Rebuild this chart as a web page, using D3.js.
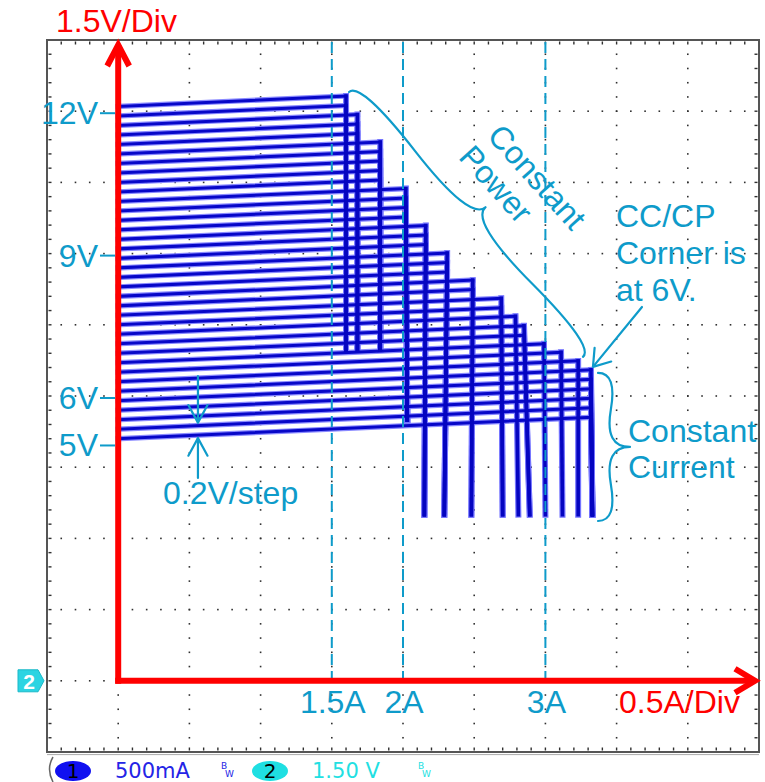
<!DOCTYPE html>
<html>
<head>
<meta charset="utf-8">
<script src="https://cdn.jsdelivr.net/npm/d3@7"></script>
<style>
  html, body { margin: 0; padding: 0; background: #ffffff; }
  svg { display: block; }
</style>
</head>
<body>
<svg id="chart" width="765" height="782"></svg>
<script>
// ---- Load sweeps: one trace per output setpoint, 0.2 V apart ----
// No-load output voltage of each sweep (V)
const startVolts = [12.1, 11.9, 11.7, 11.5, 11.3, 11.1, 10.9, 10.7, 10.5, 10.3,
                    10.1, 9.9, 9.7, 9.5, 9.3, 9.1, 8.9, 8.7, 8.5, 8.3,
                    8.1, 7.9, 7.7, 7.5, 7.3, 7.1, 6.9, 6.7, 6.5, 6.3,
                    6.1, 5.9, 5.7, 5.5, 5.3, 5.1];
// Output voltage when the sweep reaches its limit (V)
const cornerVolts = [12.32, 12.12, 11.93, 11.73, 11.53, 11.35, 11.15, 10.95, 10.75, 10.55,
                     10.37, 10.17, 9.97, 9.77, 9.59, 9.39, 9.19, 9.01, 8.81, 8.61,
                     8.44, 8.24, 8.06, 7.86, 7.68, 7.48, 7.28, 7.10, 6.92, 6.74,
                     6.55, 6.35, 6.15, 5.95, 5.75, 5.55];
// Load current at the limit (A)
const limitAmps = [1.60, 1.60, 1.68, 1.68, 1.68, 1.84, 1.84, 1.84, 1.84, 1.84,
                   2.02, 2.02, 2.02, 2.02, 2.16, 2.16, 2.16, 2.31, 2.31, 2.31,
                   2.49, 2.49, 2.69, 2.69, 2.79, 2.85, 2.85, 2.99, 3.11, 3.23,
                   3.32, 3.32, 3.32, 3.32, 3.32, 3.32];
// Voltage where the fold-down of each sweep ends (V)
const foldVolts = [6.97, 6.97, 6.97, 6.97, 6.97, 6.97, 6.97, 6.97, 6.97, 6.97,
                   5.49, 5.49, 5.49, 5.49, 3.50, 3.50, 3.50, 3.50, 3.50, 3.50,
                   3.50, 3.50, 3.50, 3.50, 3.50, 3.50, 3.50, 3.50, 3.50, 3.50,
                   3.50, 3.50, 3.50, 3.50, 3.50, 3.50];
// Current at the bottom of each fold-down (A)
const foldAmps = [1.60, 1.60, 1.68, 1.68, 1.68, 1.84, 1.84, 1.84, 1.84, 1.84,
                  2.03, 2.03, 2.03, 2.03, 2.15, 2.15, 2.15, 2.29, 2.29, 2.29,
                  2.48, 2.48, 2.70, 2.70, 2.81, 2.89, 2.89, 3.00, 3.12, 3.23,
                  3.33, 3.33, 3.33, 3.33, 3.33, 3.33];

// Axis annotations
const voltTicks = [12, 9, 6, 5];
const voltTickLabels = ["12V", "9V", "6V", "5V"];
const ampMarkers = [1.5, 2, 3];
const ampMarkerLabels = ["1.5A", "2A", "3A"];

// ---- Scales: 10 x 10 graticule, 0.5 A/div and 1.5 V/div ----
const svg = d3.select("#chart");
const x = d3.scaleLinear().domain([-0.5, 4.5]).range([47, 759]);
const y = d3.scaleLinear().domain([-1.5, 13.5]).range([752, 40]);

const CYAN = "#0e9bca";
const RED = "#ff0000";
const FONT = "'Liberation Sans', Arial, Helvetica, sans-serif";
const MONO = "'DejaVu Sans', Verdana, sans-serif";

// ---- Graticule ----
const aMinor = d3.range(1, 50).map(i => -0.5 + i * 0.1);
const vMinor = d3.range(1, 50).map(i => -1.5 + i * 0.3);
const aMajor = d3.range(1, 10).map(i => -0.5 + i * 0.5);
const vMajor = d3.range(1, 10).map(i => -1.5 + i * 1.5);

const grid = svg.append("g").attr("fill", "#303030");
const dots = [];
aMajor.forEach(a => vMinor.forEach(v => dots.push([x(a), y(v)])));
vMajor.forEach(v => aMinor.forEach(a => dots.push([x(a), y(v)])));
grid.selectAll("rect.dot").data(dots).join("rect")
  .attr("class", "dot")
  .attr("x", d => d[0] - 0.8).attr("y", d => d[1] - 0.8)
  .attr("width", 1.6).attr("height", 1.6);

// border ticks every fifth of a division
const edgeTicks = [];
aMinor.forEach(a => {
  edgeTicks.push([x(a) - 0.7, 41.5, 1.4, 3]);
  edgeTicks.push([x(a) - 0.7, 747.5, 1.4, 3]);
});
vMinor.forEach(v => {
  edgeTicks.push([48.5, y(v) - 0.7, 3, 1.4]);
  edgeTicks.push([754.5, y(v) - 0.7, 3, 1.4]);
});
grid.selectAll("rect.edge").data(edgeTicks).join("rect")
  .attr("class", "edge")
  .attr("x", d => d[0]).attr("y", d => d[1])
  .attr("width", d => d[2]).attr("height", d => d[3]);

// frame
svg.append("rect")
  .attr("x", x(-0.5)).attr("y", y(13.5))
  .attr("width", x(4.5) - x(-0.5)).attr("height", y(-1.5) - y(13.5))
  .attr("fill", "none").attr("stroke", "#555").attr("stroke-width", 2);
svg.append("line")
  .attr("x1", x(-0.5)).attr("x2", x(4.5))
  .attr("y1", y(-1.5) + 2.6).attr("y2", y(-1.5) + 2.6)
  .attr("stroke", "#aaa").attr("stroke-width", 1);

// ---- Sweep traces ----
// flat part: from no load up to the limit corner
const flats = startVolts.map((v0, k) => [[0, v0], [limitAmps[k], cornerVolts[k]]]);
// fold-down part: from the corner to where the sweep ends
const folds = startVolts.map((v0, k) => [[limitAmps[k], cornerVolts[k]], [foldAmps[k], foldVolts[k]]]);
const traceLine = d3.line().x(d => x(d[0])).y(d => y(d[1]));
const traces = svg.append("g").attr("fill", "none").attr("stroke-linecap", "square");
traces.selectAll("path.halo").data(flats).join("path")
  .attr("class", "halo").attr("d", traceLine)
  .attr("stroke", "#8a8aff").attr("stroke-width", 5.4);
traces.selectAll("path.fhalo").data(folds).join("path")
  .attr("class", "fhalo").attr("d", traceLine)
  .attr("stroke", "#7474ff").attr("stroke-width", 6);
traces.selectAll("path.core").data(flats).join("path")
  .attr("class", "core").attr("d", traceLine)
  .attr("stroke", "#0707c8").attr("stroke-width", 3);
traces.selectAll("path.fcore").data(folds).join("path")
  .attr("class", "fcore").attr("d", traceLine)
  .attr("stroke", "#0505c0").attr("stroke-width", 3.6);

// ---- Current markers (dashed) ----
svg.append("g").selectAll("line").data(ampMarkers).join("line")
  .attr("x1", d => x(d)).attr("x2", d => x(d))
  .attr("y1", y(13.5) + 2).attr("y2", y(0))
  .attr("stroke", CYAN).attr("stroke-width", 2)
  .attr("stroke-dasharray", "11,6");

svg.append("g").selectAll("text").data(ampMarkers).join("text")
  .attr("x", d => x(d) + 1).attr("y", y(0) + 32)
  .attr("text-anchor", "middle")
  .attr("font-family", FONT).attr("font-size", 32)
  .attr("fill", CYAN)
  .text((d, i) => ampMarkerLabels[i]);

// ---- Voltage labels ----
const vLab = svg.append("g");
vLab.selectAll("line").data(voltTicks).join("line")
  .attr("x1", 100).attr("x2", 115)
  .attr("y1", d => y(d) + 2).attr("y2", d => y(d) + 2)
  .attr("stroke", CYAN).attr("stroke-width", 2);
vLab.selectAll("text").data(voltTicks).join("text")
  .attr("x", 98).attr("y", d => y(d) + 13)
  .attr("text-anchor", "end")
  .attr("font-family", FONT).attr("font-size", 32)
  .attr("fill", CYAN)
  .text((d, i) => voltTickLabels[i]);

// ---- Red axes with open arrowheads ----
const axes = svg.append("g").attr("stroke", RED).attr("stroke-width", 6).attr("fill", "none");
const x0 = x(0), y0 = y(0);
axes.append("line").attr("x1", x0).attr("y1", y0 + 3).attr("x2", x0).attr("y2", 45);
axes.append("polyline")
  .attr("points", `${x0 - 11},${66} ${x0},${45} ${x0 + 11},${66}`)
  .attr("stroke-linejoin", "miter");
axes.append("line").attr("x1", x0 - 3).attr("y1", y0).attr("x2", 754).attr("y2", y0);
axes.append("polyline")
  .attr("points", `${735},${y0 - 12} ${755},${y0} ${735},${y0 + 12}`)
  .attr("stroke-linejoin", "miter");

svg.append("text").attr("x", 56).attr("y", 32)
  .attr("font-family", FONT).attr("font-size", 32).attr("fill", RED)
  .text("1.5V/Div");
svg.append("text").attr("x", 619).attr("y", y0 + 32)
  .attr("font-family", FONT).attr("font-size", 32).attr("fill", RED)
  .text("0.5A/Div");

// ---- Annotations ----
function bracePath(x1, y1, x2, y2, w, q) {
  let dx = x1 - x2, dy = y1 - y2;
  const len = Math.hypot(dx, dy);
  dx /= len; dy /= len;
  const qx1 = x1 + q * w * dy, qy1 = y1 - q * w * dx;
  const qx2 = (x1 - 0.25 * len * dx) + (1 - q) * w * dy, qy2 = (y1 - 0.25 * len * dy) - (1 - q) * w * dx;
  const tx1 = (x1 - 0.5 * len * dx) + w * dy, ty1 = (y1 - 0.5 * len * dy) - w * dx;
  const qx3 = x2 + q * w * dy, qy3 = y2 - q * w * dx;
  const qx4 = (x1 - 0.75 * len * dx) + (1 - q) * w * dy, qy4 = (y1 - 0.75 * len * dy) - (1 - q) * w * dx;
  return `M${x1},${y1} Q${qx1},${qy1} ${qx2},${qy2} T${tx1},${ty1}` +
         ` M${x2},${y2} Q${qx3},${qy3} ${qx4},${qy4} T${tx1},${ty1}`;
}
function chevron(tx, ty, ang, len, spread) {
  const a1 = ang - spread, a2 = ang + spread;
  return `M${tx + len * Math.cos(a1)},${ty + len * Math.sin(a1)} L${tx},${ty} L${tx + len * Math.cos(a2)},${ty + len * Math.sin(a2)}`;
}

const ann = svg.append("g").attr("fill", "none").attr("stroke", CYAN).attr("stroke-width", 2.2)
  .attr("stroke-linecap", "round").attr("stroke-linejoin", "round");
const annText = svg.append("g").attr("font-family", FONT).attr("font-size", 32).attr("fill", CYAN);

// corner where constant power hands over to constant current
const ccIdx = 30;
const cornerX = x(limitAmps[ccIdx]), cornerY = y(cornerVolts[ccIdx]);
const topX = x(limitAmps[0]), topY = y(cornerVolts[0]);

// constant-power brace along the staircase edge
ann.append("path").attr("d", bracePath(cornerX - 8, cornerY - 13, topX + 3, topY - 4, 26, 0.6));
annText.append("text")
  .attr("transform", "translate(537,177) rotate(48)")
  .attr("text-anchor", "middle").attr("dominant-baseline", "central")
  .text("Constant");
annText.append("text")
  .attr("transform", "translate(496,184) rotate(48)")
  .attr("text-anchor", "middle").attr("dominant-baseline", "central")
  .text("Power");

// CC/CP corner call-out
const tipX = cornerX + 2, tipY = cornerY - 3;
ann.append("line").attr("x1", 642).attr("y1", 307).attr("x2", tipX).attr("y2", tipY);
ann.append("path").attr("d", chevron(tipX, tipY, Math.atan2(307 - tipY, 642 - tipX), 19, 0.6));
["CC/CP", "Corner is", "at 6V."].forEach((t, i) =>
  annText.append("text").attr("x", 616).attr("y", 227 + i * 37).text(t));

// constant-current brace
ann.append("path").attr("d", bracePath(598, 521, 598, cornerY + 3, 32, 0.6));
annText.append("text").attr("x", 628).attr("y", 442).text("Constant");
annText.append("text").attr("x", 628).attr("y", 478).text("Current");

// 0.2 V step marker between the two lowest sweeps
const stepA = 0.56;
const vAt = k => startVolts[k] + (cornerVolts[k] - startVolts[k]) * stepA / limitAmps[k];
const sx = x(stepA);
const upperY = y(vAt(34)) - 3, lowerY = y(vAt(35)) + 3;
ann.append("line").attr("x1", sx).attr("y1", 376).attr("x2", sx).attr("y2", upperY);
ann.append("path").attr("d", chevron(sx, upperY, -Math.PI / 2, 20, 0.5));
ann.append("line").attr("x1", sx).attr("y1", 478).attr("x2", sx).attr("y2", lowerY);
ann.append("path").attr("d", chevron(sx, lowerY, Math.PI / 2, 20, 0.5));
annText.append("text").attr("x", 163).attr("y", 504).text("0.2V/step");

// ---- Channel 2 ground marker ----
svg.append("path")
  .attr("d", `M18,${y0 - 11} L38,${y0 - 11} L44,${y0} L38,${y0 + 11} L18,${y0 + 11} Z`)
  .attr("fill", "#2cd4e2").attr("stroke", "#1bb8c8").attr("stroke-width", 1);
svg.append("text").attr("x", 29).attr("y", y0 + 8)
  .attr("text-anchor", "middle").attr("font-family", FONT).attr("font-weight", "bold")
  .attr("font-size", 21).attr("fill", "#ffffff").text("2");

// ---- Channel readout bar ----
const bar = svg.append("g");
bar.append("path").attr("d", "M53,757 Q46,769 53,782")
  .attr("fill", "none").attr("stroke", "#666").attr("stroke-width", 1.5);
bar.append("ellipse").attr("cx", 73).attr("cy", 771).attr("rx", 18).attr("ry", 10).attr("fill", "#1010f0");
bar.append("text").attr("x", 73).attr("y", 778).attr("text-anchor", "middle")
  .attr("font-family", MONO).attr("font-size", 20).attr("fill", "#000").text("1");
bar.append("text").attr("x", 115).attr("y", 778)
  .attr("font-family", MONO).attr("font-size", 21).attr("fill", "#2424e6").text("500mA");
bar.append("text").attr("x", 221).attr("y", 769)
  .attr("font-family", MONO).attr("font-size", 9).attr("fill", "#2424e6").text("B");
bar.append("text").attr("x", 225).attr("y", 777)
  .attr("font-family", MONO).attr("font-size", 9).attr("fill", "#2424e6").text("W");
bar.append("ellipse").attr("cx", 270).attr("cy", 771).attr("rx", 18).attr("ry", 10).attr("fill", "#1fdfe2");
bar.append("text").attr("x", 270).attr("y", 778).attr("text-anchor", "middle")
  .attr("font-family", MONO).attr("font-size", 20).attr("fill", "#000").text("2");
bar.append("text").attr("x", 312).attr("y", 778)
  .attr("font-family", MONO).attr("font-size", 21).attr("fill", "#22dfe2").text("1.50 V");
bar.append("text").attr("x", 418).attr("y", 769)
  .attr("font-family", MONO).attr("font-size", 9).attr("fill", "#22dfe2").text("B");
bar.append("text").attr("x", 422).attr("y", 777)
  .attr("font-family", MONO).attr("font-size", 9).attr("fill", "#22dfe2").text("W");
</script>
</body>
</html>
